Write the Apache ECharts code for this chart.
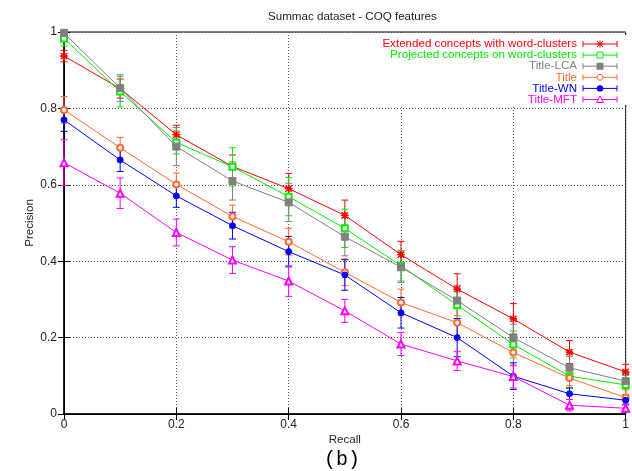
<!DOCTYPE html>
<html>
<head>
<meta charset="utf-8">
<script src="https://cdn.jsdelivr.net/npm/echarts@6/dist/echarts.min.js"></script>
<style>
  html, body { margin: 0; padding: 0; background: #fff; }
  #chart { width: 632px; height: 471px; }
</style>
</head>
<body>
<div id="chart"></div>
<script>
// recall levels (x axis)
var recall = [0, 0.1, 0.2, 0.3, 0.4, 0.5, 0.6, 0.7, 0.8, 0.9, 1.0];
var xTicks = [0, 0.2, 0.4, 0.6, 0.8, 1];
var yTicks = [0, 0.2, 0.4, 0.6, 0.8, 1];

var names = [
    'Extended concepts with word-clusters',
    'Projected concepts on word-clusters',
    'Title-LCA',
    'Title',
    'Title-WN',
    'Title-MFT'
];

// precision per method
var extConcepts = [0.937, 0.852, 0.731, 0.648, 0.590, 0.520, 0.417, 0.327, 0.249, 0.162, 0.110];
var projConcepts = [0.983, 0.844, 0.711, 0.647, 0.569, 0.486, 0.388, 0.285, 0.182, 0.099, 0.076];
var titleLCA = [0.997, 0.853, 0.700, 0.610, 0.554, 0.464, 0.384, 0.297, 0.200, 0.121, 0.086];
var titleOnly = [0.796, 0.697, 0.601, 0.517, 0.451, 0.371, 0.292, 0.239, 0.161, 0.094, 0.043];
var titleWN = [0.770, 0.665, 0.571, 0.493, 0.425, 0.364, 0.265, 0.200, 0.099, 0.053, 0.036];
var titleMFT = [0.658, 0.578, 0.475, 0.403, 0.348, 0.270, 0.183, 0.139, 0.098, 0.023, 0.015];

// half length of the error bars
var extErr = [0.015, 0.025, 0.025, 0.03, 0.04, 0.04, 0.035, 0.04, 0.04, 0.03, 0.02];
var projErr = [0.02, 0.04, 0.03, 0.05, 0.05, 0.05, 0.04, 0.04, 0.035, 0.03, 0.025];
var lcaErr = [0.01, 0.035, 0.05, 0.05, 0.05, 0.05, 0.04, 0.04, 0.035, 0.03, 0.02];
var titleErr = [0.035, 0.027, 0.03, 0.03, 0.035, 0.035, 0.035, 0.04, 0.035, 0.02, 0.02];
var wnErr = [0.03, 0.03, 0.03, 0.035, 0.04, 0.04, 0.04, 0.05, 0.035, 0.015, 0.01];
var mftErr = [0.06, 0.04, 0.035, 0.035, 0.04, 0.03, 0.03, 0.025, 0.03, 0.015, 0.01];

var values = [extConcepts, projConcepts, titleLCA, titleOnly, titleWN, titleMFT];
var errors = [extErr, projErr, lcaErr, titleErr, wnErr, mftErr];
var colors = ['#ff0000', '#00ee00', '#808080', '#ff6a30', '#0000ff', '#ff00ff'];

// asterisk marker (gnuplot style), thin arms
var asterisk = 'path://M4.5,0h1v10h-1z M0,4.5h10v1h-10z ' +
    'M1.2,0.5L9.5,8.8L8.8,9.5L0.5,1.2z M8.8,0.5L9.5,1.2L1.2,9.5L0.5,8.8z';
var symbols = [asterisk, 'emptyRect', 'rect', 'emptyCircle', 'circle', 'emptyTriangle'];
var symbolSizes = [7, 6, 7, 6, 6, 7];

var myChart = echarts.init(document.getElementById('chart'));

function pairs(ys) {
    return recall.map(function (x, i) { return [x, ys[i]]; });
}

// error bar: vertical line + two caps
function errorBar(color) {
    return function (params, api) {
        var x = api.value(0), y = api.value(1), e = api.value(2);
        var lo = api.coord([x, y - e]);
        var hi = api.coord([x, y + e]);
        var cap = 3.5;
        var style = { stroke: color, lineWidth: 1 };
        return {
            type: 'group',
            children: [
                { type: 'line', shape: { x1: lo[0], y1: lo[1], x2: hi[0], y2: hi[1] }, style: style },
                { type: 'line', shape: { x1: lo[0] - cap, y1: lo[1], x2: lo[0] + cap, y2: lo[1] }, style: style },
                { type: 'line', shape: { x1: hi[0] - cap, y1: hi[1], x2: hi[0] + cap, y2: hi[1] }, style: style }
            ]
        };
    };
}

var series = [];
names.forEach(function (name, k) {
    series.push({
        name: 'err' + k,
        type: 'custom',
        renderItem: errorBar(colors[k]),
        data: recall.map(function (x, i) { return [x, values[k][i], errors[k][i]]; }),
        clip: false,
        silent: true,
        z: 4
    });
    series.push({
        name: name,
        type: 'line',
        data: pairs(values[k]),
        symbol: symbols[k],
        symbolSize: symbolSizes[k],
        showAllSymbol: true,
        clip: false,
        lineStyle: { color: colors[k], width: 1 },
        itemStyle: { color: colors[k], borderColor: colors[k], borderWidth: 1 },
        z: 5
    });
});

// key in the top right corner, drawn gnuplot style (text, line with caps, marker)
var font = 'Liberation Sans';
var KZ = 3;
function keyMarker(k, cx, cy) {
    var c = colors[k];
    var st = { stroke: c, fill: 'none', lineWidth: 1 };
    if (k === 0) {
        return [
            { type: 'line', z: KZ, shape: { x1: cx - 3.5, y1: cy, x2: cx + 3.5, y2: cy }, style: st },
            { type: 'line', z: KZ, shape: { x1: cx, y1: cy - 3.5, x2: cx, y2: cy + 3.5 }, style: st },
            { type: 'line', z: KZ, shape: { x1: cx - 3, y1: cy - 3, x2: cx + 3, y2: cy + 3 }, style: st },
            { type: 'line', z: KZ, shape: { x1: cx - 3, y1: cy + 3, x2: cx + 3, y2: cy - 3 }, style: st }
        ];
    }
    if (k === 1) return [{ type: 'rect', z: KZ, shape: { x: cx - 3, y: cy - 3, width: 6, height: 6 }, style: { stroke: c, fill: '#fff' } }];
    if (k === 2) return [{ type: 'rect', z: KZ, shape: { x: cx - 3.5, y: cy - 3.5, width: 7, height: 7 }, style: { fill: c } }];
    if (k === 3) return [{ type: 'circle', z: KZ, shape: { cx: cx, cy: cy, r: 3 }, style: { stroke: c, fill: '#fff' } }];
    if (k === 4) return [{ type: 'circle', z: KZ, shape: { cx: cx, cy: cy, r: 3.2 }, style: { fill: c } }];
    return [{ type: 'polygon', z: KZ, shape: { points: [[cx, cy - 3.5], [cx + 3.5, cy + 3], [cx - 3.5, cy + 3]] }, style: { stroke: c, fill: '#fff' } }];
}
// white box behind the key hides the grid lines there
var keyItems = [{ type: 'rect', z: 2, shape: { x: 372, y: 35, width: 256, height: 70 }, style: { fill: '#fff' } }];
names.forEach(function (name, k) {
    var cy = 44 + k * 11.1;
    var st = { stroke: colors[k], lineWidth: 1 };
    keyItems.push({
        type: 'text', z: KZ, x: 577, y: cy,
        style: { text: name, fill: colors[k], font: '11.6px "' + font + '"', align: 'right', verticalAlign: 'middle' }
    });
    keyItems.push({ type: 'line', z: KZ, shape: { x1: 583, y1: cy, x2: 617, y2: cy }, style: st });
    keyItems.push({ type: 'line', z: KZ, shape: { x1: 583, y1: cy - 3, x2: 583, y2: cy + 3 }, style: st });
    keyItems.push({ type: 'line', z: KZ, shape: { x1: 617, y1: cy - 3, x2: 617, y2: cy + 3 }, style: st });
    keyItems = keyItems.concat(keyMarker(k, 600, cy));
});

var gridLine = { show: true, lineStyle: { color: '#555', type: [1, 2], width: 1 } };

var option = {
    animation: false,
    title: {
        text: 'Summac dataset - COQ features',
        left: 263,
        top: 6,
        textStyle: { fontFamily: font, fontSize: 11.6, fontWeight: 'normal', color: '#222' }
    },
    grid: {
        left: 64,
        right: 1,
        top: 32,
        bottom: 57,
        show: true,
        borderColor: '#000',
        borderWidth: 1
    },
    xAxis: [{
        type: 'value',
        min: 0,
        max: 1,
        interval: 0.2,
        name: 'Recall',
        nameLocation: 'middle',
        nameGap: 20,
        nameMoveOverlap: false,
        nameTextStyle: { fontFamily: font, fontSize: 11.6, color: '#222' },
        axisLine: { show: true, lineStyle: { color: '#000', width: 1.5 } },
        axisTick: { show: true, inside: true, length: 6, lineStyle: { color: '#000' } },
        axisLabel: {
            fontFamily: font, fontSize: 12, color: '#222', margin: 5,
            formatter: function (v) { return xTicks.indexOf(+v.toFixed(1)) >= 0 ? String(+v.toFixed(1)) : ''; }
        },
        splitLine: gridLine
    }, {
        type: 'value',
        position: 'top',
        min: 0,
        max: 1,
        interval: 0.2,
        axisLine: { show: true, lineStyle: { color: '#000' } },
        axisTick: { show: true, inside: true, length: 6, lineStyle: { color: '#000' } },
        axisLabel: { show: false },
        splitLine: { show: false }
    }],
    yAxis: [{
        type: 'value',
        min: 0,
        max: 1,
        interval: 0.2,
        name: 'Precision',
        nameLocation: 'middle',
        nameGap: 28,
        nameMoveOverlap: false,
        nameTextStyle: { fontFamily: font, fontSize: 11.6, color: '#222' },
        axisLine: { show: true, lineStyle: { color: '#000', width: 1.5 } },
        axisTick: { show: true, inside: true, length: 6, lineStyle: { color: '#000' } },
        axisLabel: {
            fontFamily: font, fontSize: 12, color: '#222', margin: 7,
            formatter: function (v) { return yTicks.indexOf(+v.toFixed(1)) >= 0 ? String(+v.toFixed(1)) : ''; }
        },
        splitLine: gridLine
    }, {
        type: 'value',
        position: 'right',
        min: 0,
        max: 1,
        interval: 0.2,
        axisLine: { show: true, lineStyle: { color: '#000' } },
        axisTick: { show: true, inside: true, length: 6, lineStyle: { color: '#000' } },
        axisLabel: { show: false },
        splitLine: { show: false }
    }],
    graphic: [{
        type: 'text',
        left: 324,
        top: 450,
        style: { text: '(b)', font: '20px "Liberation Mono"', fill: '#000' }
    }].concat(keyItems),
    series: series
};

myChart.setOption(option);
window.addEventListener('resize', function () { myChart.resize(); });
</script>
</body>
</html>
